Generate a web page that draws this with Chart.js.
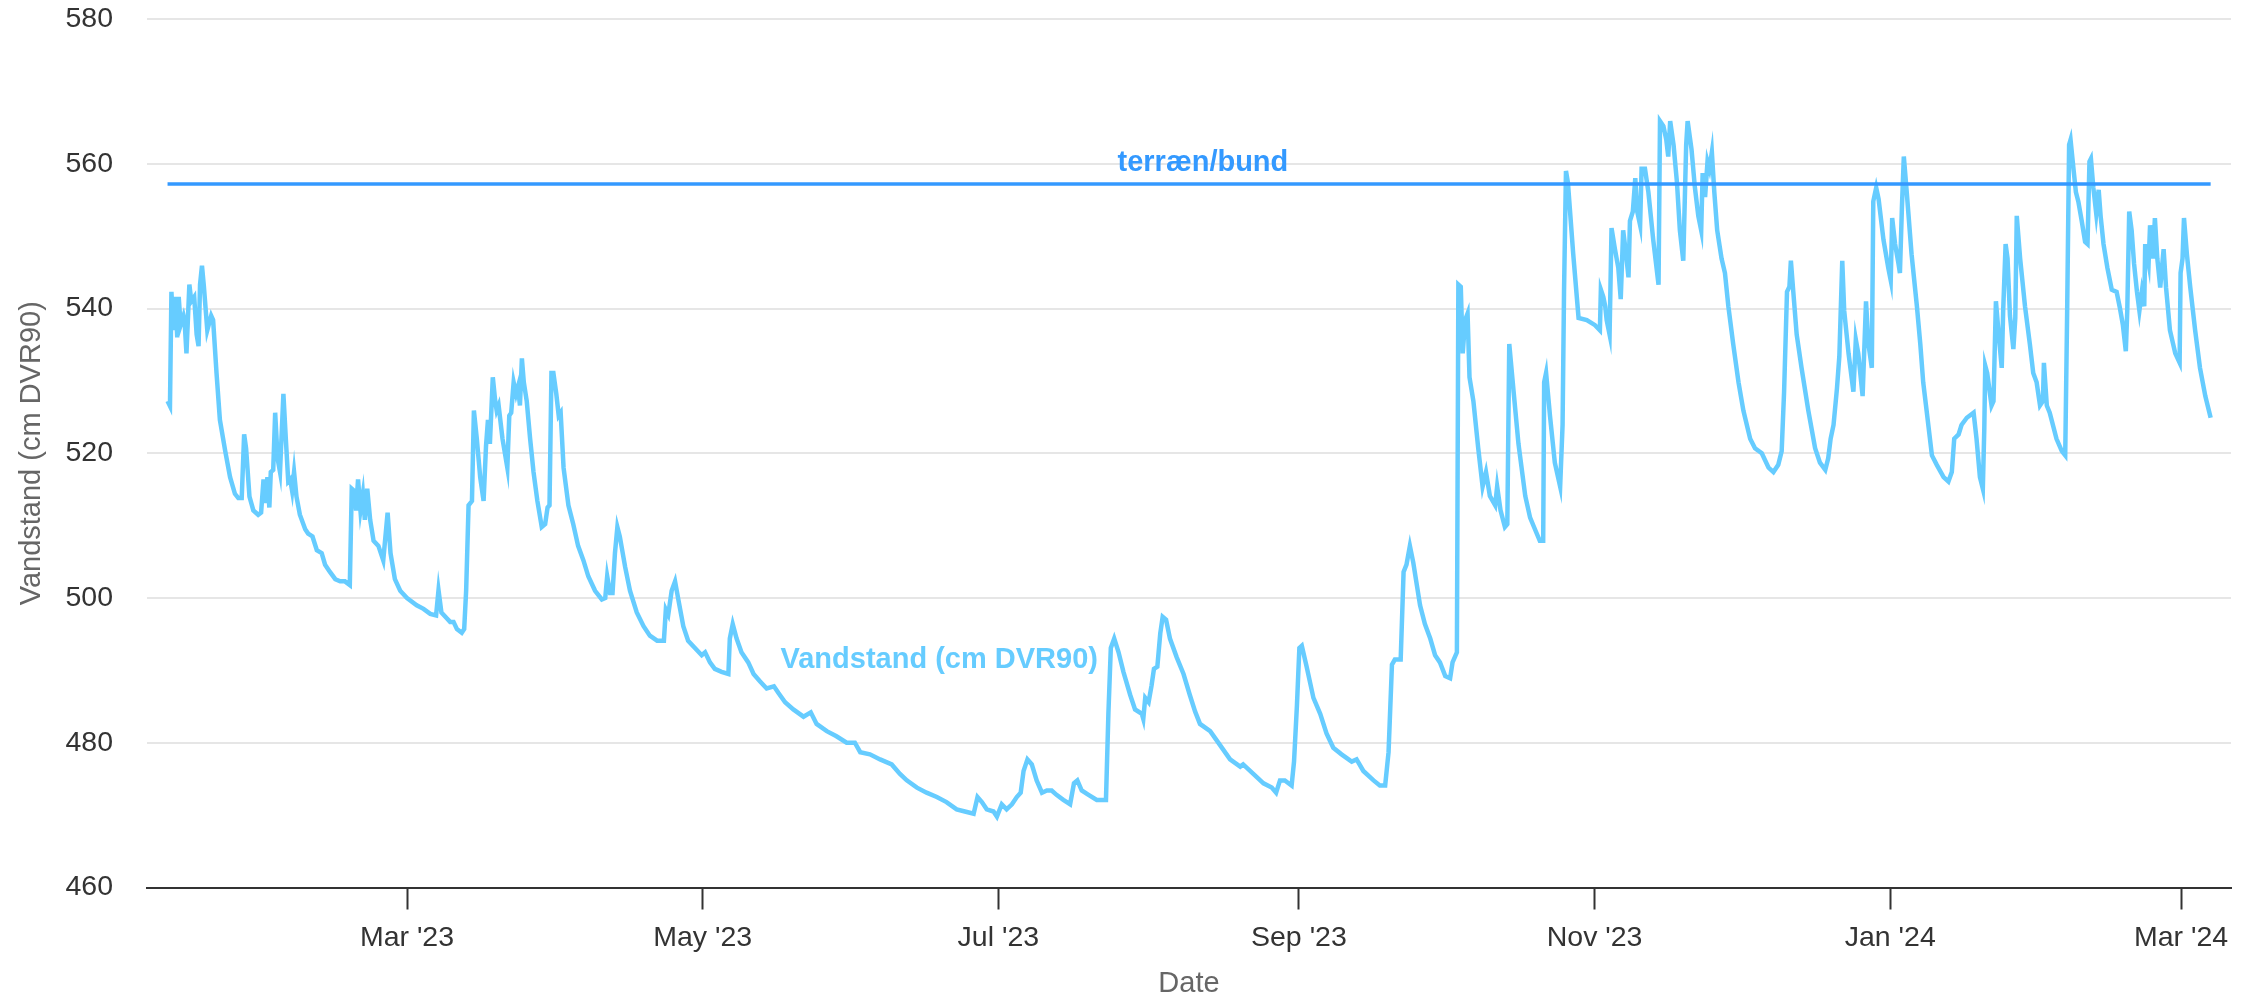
<!DOCTYPE html>
<html lang="da">
<head>
<meta charset="utf-8">
<title>Vandstand</title>
<script src="https://cdn.jsdelivr.net/npm/chart.js@4.4.1/dist/chart.umd.min.js"></script>
<style>
    html, body { margin: 0; padding: 0; background: #fff; }
    #boks { width: 2259px; height: 998px; position: relative; }
</style>
</head>
<body>
<div id="boks"><canvas id="grafVandstand"></canvas></div>
<script>
// dage efter 1. jan 2023
const dage = [
    9.6, 10.1, 10.4, 10.8, 11.2, 11.6, 11.9, 12.3, 12.9, 13.1, 13.5, 14.1, 14.5, 15.1, 15.6, 16.0, 16.3, 16.7, 17.1, 17.8,
    18.2, 18.6, 19.0, 19.7, 20.4, 21.5, 22.5, 23.5, 24.2, 24.9, 25.4, 25.8, 26.5, 27.3, 28.3, 28.9, 29.4, 29.8, 30.2, 30.6,
    30.9, 31.4, 31.8, 32.3, 32.8, 33.5, 34.0, 34.5, 34.9, 35.3, 35.7, 36.2, 36.9, 38.0, 38.6, 39.5, 40.4, 41.4, 42.1, 43.1,
    44.2, 45.2, 46.2, 47.2, 47.6, 48.1, 48.5, 48.9, 49.4, 49.9, 50.3, 50.8, 51.4, 52.1, 53.1, 54.1, 55.0, 55.6, 56.5, 57.6,
    59.0, 61.0, 62.4, 63.8, 65.0, 65.5, 66.1, 67.2, 67.9, 68.6, 69.3, 70.3, 70.8, 71.2, 71.7, 72.4, 72.8, 73.4, 74.1, 74.8,
    75.3, 75.7, 76.1, 76.7, 77.2, 77.5, 77.9, 78.7, 79.7, 80.1, 80.5, 81.0, 81.5, 81.9, 82.3, 82.7, 83.1, 83.7, 84.4, 85.1,
    85.9, 86.8, 87.5, 88.0, 88.4, 88.8, 89.2, 89.8, 90.3, 90.7, 91.3, 92.3, 93.3, 94.3, 95.4, 96.4, 97.8, 99.2, 99.9, 100.3,
    100.9, 101.4, 101.9, 102.4, 102.9, 104.0, 105.0, 106.4, 107.8, 109.1, 110.6, 112.0, 112.4, 112.9, 113.6, 114.3, 115.0, 116.0, 117.0, 118.4,
    119.8, 120.5, 121.5, 122.5, 123.9, 125.3, 125.6, 126.2, 127.0, 128.0, 129.4, 130.5, 131.8, 133.2, 134.7, 135.6, 137.0, 138.7, 140.8, 142.3,
    143.5, 145.6, 147.6, 149.7, 151.4, 152.5, 154.5, 156.6, 159.0, 160.7, 162.1, 164.2, 166.2, 168.3, 170.3, 172.4, 174.1, 175.9, 176.7, 177.6,
    178.6, 180.0, 180.7, 181.7, 182.7, 183.8, 184.8, 185.6, 186.2, 187.0, 187.9, 188.9, 190.0, 191.0, 192.0, 193.0, 194.4, 195.8, 196.6, 197.3,
    198.2, 199.6, 201.3, 203.2, 203.7, 204.2, 204.9, 205.8, 206.8, 208.2, 209.2, 210.6, 210.9, 211.3, 212.0, 212.6, 213.1, 213.8, 214.4, 214.9,
    215.6, 216.4, 217.8, 219.2, 220.5, 221.6, 222.6, 224.7, 226.7, 228.8, 230.9, 231.5, 233.6, 235.7, 237.4, 238.3, 239.1, 240.1, 241.5, 242.0,
    242.6, 243.1, 243.6, 244.6, 246.0, 247.4, 248.7, 250.1, 251.8, 253.9, 254.9, 256.3, 258.4, 259.7, 260.8, 261.5, 262.2, 262.8, 264.0, 264.6,
    265.2, 265.9, 266.6, 268.0, 269.0, 270.1, 271.1, 272.1, 273.2, 274.2, 274.7, 275.6, 275.9, 276.4, 276.8, 277.3, 277.8, 278.2, 279.0, 280.0,
    280.9, 281.6, 282.4, 283.5, 283.9, 284.6, 285.5, 286.0, 286.4, 287.3, 288.3, 289.7, 290.7, 291.7, 292.7, 293.4, 293.6, 294.0, 294.8, 295.8,
    296.9, 297.4, 297.7, 298.1, 298.5, 299.6, 300.7, 302.4, 304.1, 305.1, 305.3, 305.8, 306.2, 306.5, 307.1, 307.5, 308.2, 308.9, 309.4, 309.9,
    310.5, 311.0, 311.3, 311.9, 312.4, 312.8, 313.4, 313.7, 314.4, 315.1, 316.1, 317.2, 317.5, 318.2, 318.8, 319.2, 319.6, 320.3, 321.0, 321.6,
    322.3, 322.9, 323.2, 324.0, 324.7, 325.4, 326.0, 326.3, 326.8, 327.3, 327.7, 328.2, 328.7, 329.3, 330.2, 330.9, 331.6, 332.6, 333.7, 334.7,
    336.1, 337.1, 338.5, 339.9, 340.9, 341.9, 342.6, 343.1, 343.7, 344.2, 344.5, 345.0, 345.7, 346.7, 348.1, 349.5, 350.5, 351.6, 352.2, 352.7,
    353.3, 354.0, 354.5, 355.1, 355.5, 356.4, 357.4, 357.9, 358.4, 359.3, 360.0, 360.5, 361.2, 361.5, 362.1, 362.6, 363.6, 364.6, 365.1, 365.4,
    366.0, 366.7, 367.0, 367.4, 367.8, 368.4, 369.4, 370.5, 371.2, 371.8, 372.5, 373.6, 374.6, 376.0, 377.0, 377.7, 378.2, 379.1, 379.7, 380.8,
    382.2, 382.8, 383.5, 384.1, 384.4, 384.6, 385.0, 385.9, 386.3, 386.8, 387.3, 388.0, 388.3, 388.8, 389.2, 389.7, 390.4, 390.8, 391.1, 391.8,
    392.8, 393.8, 394.5, 395.2, 395.9, 396.5, 396.7, 397.3, 397.9, 399.3, 400.4, 401.1, 401.5, 401.9, 402.2, 402.8, 403.3, 403.8, 404.5, 405.2,
    405.7, 406.1, 406.4, 406.9, 407.5, 408.0, 408.4, 409.0, 409.8, 410.7, 411.7, 412.4, 413.0, 413.6, 413.9, 414.3, 414.8, 415.3, 415.9, 416.4,
    416.9, 417.4, 417.6, 418.3, 418.6, 419.2, 419.6, 420.1, 420.7, 421.4, 421.9, 422.7, 423.8, 424.7, 424.9, 425.3, 425.6, 426.2, 426.9, 427.9,
    428.9, 430.0, 431.1
];

const vandstand = [
    527.2, 526.5, 542.3, 537.0, 541.6, 536.0, 541.6, 537.7, 539.0, 538.4, 533.8, 543.3, 541.0, 541.6, 536.4, 534.8, 543.3, 545.9, 543.0, 537.0,
    538.0, 539.0, 538.4, 531.1, 524.6, 520.3, 516.7, 514.4, 513.8, 513.8, 522.6, 520.7, 514.0, 512.1, 511.5, 511.8, 516.4, 513.1, 516.7, 512.5,
    517.4, 517.7, 525.6, 519.3, 517.4, 528.2, 522.0, 516.1, 516.4, 514.8, 517.4, 514.0, 511.5, 509.5, 508.9, 508.5, 506.6, 506.2, 504.6, 503.6,
    502.6, 502.3, 502.3, 501.8, 515.1, 514.8, 512.1, 516.4, 512.1, 514.4, 510.8, 515.1, 510.8, 507.9, 507.2, 505.2, 511.8, 506.2, 502.6, 501.0,
    500.0, 499.0, 498.5, 497.8, 497.6, 501.1, 498.0, 497.2, 496.7, 496.7, 495.7, 495.2, 495.7, 501.0, 512.8, 513.4, 525.9, 522.0, 516.7, 513.4,
    521.0, 524.6, 521.3, 530.5, 527.2, 525.9, 526.6, 522.0, 518.0, 525.2, 525.6, 529.8, 528.2, 529.2, 526.6, 533.1, 529.8, 527.2, 522.0, 517.4,
    513.4, 509.8, 510.2, 512.5, 512.8, 531.1, 531.1, 528.2, 525.2, 525.6, 518.0, 512.8, 510.2, 507.2, 505.2, 503.0, 501.0, 499.8, 500.0, 503.0,
    500.7, 500.7, 506.2, 509.8, 508.5, 504.3, 501.0, 498.0, 496.1, 494.8, 494.1, 494.1, 498.4, 497.7, 501.0, 502.3, 499.7, 496.1, 494.1, 493.1,
    492.1, 492.5, 491.1, 490.2, 489.8, 489.5, 494.4, 496.4, 494.4, 492.5, 491.1, 489.5, 488.5, 487.5, 487.8, 486.9, 485.6, 484.6, 483.6, 484.2,
    482.6, 481.6, 480.9, 480.0, 480.0, 478.7, 478.4, 477.7, 477.0, 475.7, 474.8, 473.8, 473.1, 472.5, 471.8, 470.8, 470.5, 470.2, 472.5, 471.8,
    470.8, 470.5, 469.8, 471.5, 470.8, 471.5, 472.5, 473.1, 476.1, 477.7, 477.0, 474.8, 473.1, 473.4, 473.4, 472.8, 472.1, 471.5, 474.4, 474.8,
    473.4, 472.8, 472.1, 472.1, 484.0, 493.1, 494.4, 492.5, 489.8, 486.6, 484.6, 484.0, 483.3, 486.2, 485.6, 487.9, 490.2, 490.5, 495.1, 497.4,
    497.0, 494.4, 491.8, 489.5, 486.6, 484.3, 482.6, 481.6, 479.7, 477.7, 476.7, 477.0, 475.7, 474.4, 473.8, 473.1, 474.8, 474.8, 474.1, 477.4,
    485.2, 493.1, 493.4, 490.5, 486.2, 484.0, 481.3, 479.3, 478.4, 477.4, 477.7, 476.1, 474.8, 474.1, 474.1, 478.7, 490.8, 491.5, 491.5, 503.6,
    504.6, 507.2, 504.9, 499.0, 496.4, 494.4, 492.1, 491.1, 489.2, 488.9, 491.1, 492.5, 543.3, 543.0, 533.8, 538.4, 539.3, 530.5, 527.2, 520.7,
    515.4, 517.4, 514.1, 512.8, 515.4, 512.1, 509.8, 510.2, 535.1, 528.5, 521.3, 514.1, 511.1, 509.5, 507.9, 507.9, 529.8, 531.1, 525.2, 518.7,
    515.4, 523.9, 542.3, 559.0, 557.4, 547.5, 538.7, 538.4, 537.7, 537.0, 542.6, 541.6, 540.3, 538.4, 536.4, 551.1, 548.2, 545.6, 541.3, 550.8,
    547.5, 544.3, 552.1, 553.4, 558.0, 553.4, 551.5, 559.3, 559.3, 556.1, 549.5, 543.3, 565.9, 565.2, 563.3, 561.0, 565.9, 562.6, 557.4, 550.8,
    546.6, 562.6, 565.9, 562.0, 556.7, 552.8, 550.8, 558.7, 555.4, 560.3, 559.3, 561.6, 556.1, 550.8, 546.9, 544.9, 540.3, 535.1, 529.8, 525.9,
    522.0, 520.7, 520.0, 518.0, 517.4, 518.4, 520.3, 528.5, 542.3, 543.0, 546.6, 542.3, 536.4, 531.8, 525.9, 520.7, 518.7, 517.7, 519.3, 522.0,
    523.9, 528.9, 533.4, 546.6, 539.7, 533.8, 528.5, 535.7, 533.8, 527.9, 541.0, 535.1, 531.8, 554.8, 556.7, 555.1, 549.5, 545.6, 543.9, 552.5,
    548.9, 546.2, 544.9, 553.8, 561.0, 556.1, 547.5, 540.3, 535.1, 529.8, 525.9, 519.7, 518.4, 516.7, 516.1, 517.4, 522.0, 522.6, 523.9, 524.9,
    525.6, 522.0, 516.7, 515.1, 523.3, 532.1, 531.1, 526.6, 527.2, 541.0, 537.0, 531.8, 539.7, 548.9, 546.9, 539.0, 534.4, 538.7, 552.8, 546.9,
    540.3, 535.1, 531.1, 529.8, 526.6, 527.2, 532.5, 526.6, 525.6, 522.0, 520.3, 519.7, 539.7, 562.6, 563.3, 559.3, 556.1, 554.8, 552.1, 549.2,
    548.9, 560.3, 560.7, 556.7, 553.1, 556.4, 552.8, 548.9, 545.6, 542.6, 542.3, 540.0, 537.7, 534.1, 539.7, 553.4, 550.8, 546.2, 542.3, 539.7,
    542.3, 540.3, 548.9, 546.2, 551.5, 546.9, 552.5, 546.9, 542.9, 548.2, 542.9, 537.0, 533.8, 532.5, 544.9, 546.9, 552.5, 547.5, 542.9, 537.0,
    531.8, 527.9, 524.9
];

const terraenNiveau = 557.2;

// månedsstart (dage efter 1. jan 2023) og tekst
const tickDage = [59, 120, 181, 243, 304, 365, 425];
const tickLabels = ["Mar '23", "May '23", "Jul '23", "Sep '23", "Nov '23", "Jan '24", "Mar '24"];

const farveVandstand = '#66ccff';
const farveTerraen = '#3399ff';
const skrift = '"Liberation Sans", Arial, Helvetica, sans-serif';

// navne paa linjerne skrives direkte i grafen
const serieEtiketter = {
    id: 'serieEtiketter',
    afterDatasetsDraw(chart) {
        const { ctx, scales: { x, y } } = chart;
        ctx.save();
        ctx.font = 'bold 29px ' + skrift;
        ctx.textAlign = 'center';
        ctx.textBaseline = 'alphabetic';
        ctx.fillStyle = farveTerraen;
        ctx.fillText('terræn/bund', x.getPixelForValue(223.2), y.getPixelForValue(terraenNiveau) - 13);
        ctx.textBaseline = 'middle';
        ctx.fillStyle = farveVandstand;
        ctx.fillText('Vandstand (cm DVR90)', x.getPixelForValue(168.8), y.getPixelForValue(491.5));
        ctx.restore();
    }
};

const ctx = document.getElementById('grafVandstand').getContext('2d');

new Chart(ctx, {
    type: 'line',
    data: {
        datasets: [
            {
                label: 'terræn/bund',
                data: [
                    { x: dage[0], y: terraenNiveau },
                    { x: dage[dage.length - 1], y: terraenNiveau }
                ],
                borderColor: farveTerraen,
                borderWidth: 3.5,
                pointRadius: 0
            },
            {
                label: 'Vandstand (cm DVR90)',
                data: dage.map((d, i) => ({ x: d, y: vandstand[i] })),
                borderColor: farveVandstand,
                borderWidth: 4.5,
                pointRadius: 0,
                tension: 0
            }
        ]
    },
    options: {
        animation: false,
        responsive: true,
        maintainAspectRatio: false,
        layout: { padding: { top: 19, right: 28, left: 0, bottom: 0 } },
        plugins: {
            legend: { display: false },
            tooltip: { enabled: false }
        },
        scales: {
            x: {
                type: 'linear',
                min: 5.36,
                max: 435.3,
                afterBuildTicks: (akse) => {
                    akse.ticks = tickDage.map(v => ({ value: v }));
                },
                afterFit: (akse) => {
                    akse.height = 110.5;
                    akse.paddingLeft = 0;
                    akse.paddingRight = 0;
                },
                grid: {
                    drawOnChartArea: false,
                    drawTicks: true,
                    tickLength: 22,
                    tickColor: '#333333',
                    tickWidth: 2
                },
                border: { color: '#333333', width: 2, z: 1 },
                ticks: {
                    autoSkip: false,
                    maxRotation: 0,
                    padding: 14,
                    color: '#333333',
                    font: { size: 28.5, family: skrift, lineHeight: 1 },
                    callback: (value) => tickLabels[tickDage.indexOf(value)]
                },
                title: {
                    display: true,
                    text: 'Date',
                    color: '#666666',
                    font: { size: 29, family: skrift, lineHeight: 1 },
                    padding: 0
                }
            },
            y: {
                min: 460,
                max: 580,
                afterFit: (akse) => {
                    akse.width = 147;
                    akse.paddingTop = 0;
                    akse.paddingBottom = 0;
                },
                grid: {
                    color: '#e6e6e6',
                    lineWidth: 2,
                    drawTicks: false
                },
                border: { display: false },
                ticks: {
                    stepSize: 20,
                    padding: 34,
                    color: '#333333',
                    font: { size: 28.5, family: skrift }
                },
                title: {
                    display: true,
                    text: 'Vandstand (cm DVR90)',
                    color: '#666666',
                    font: { size: 29, family: skrift, lineHeight: 1 },
                    padding: { top: 17, bottom: 0 }
                }
            }
        }
    },
    plugins: [serieEtiketter]
});
</script>
</body>
</html>
